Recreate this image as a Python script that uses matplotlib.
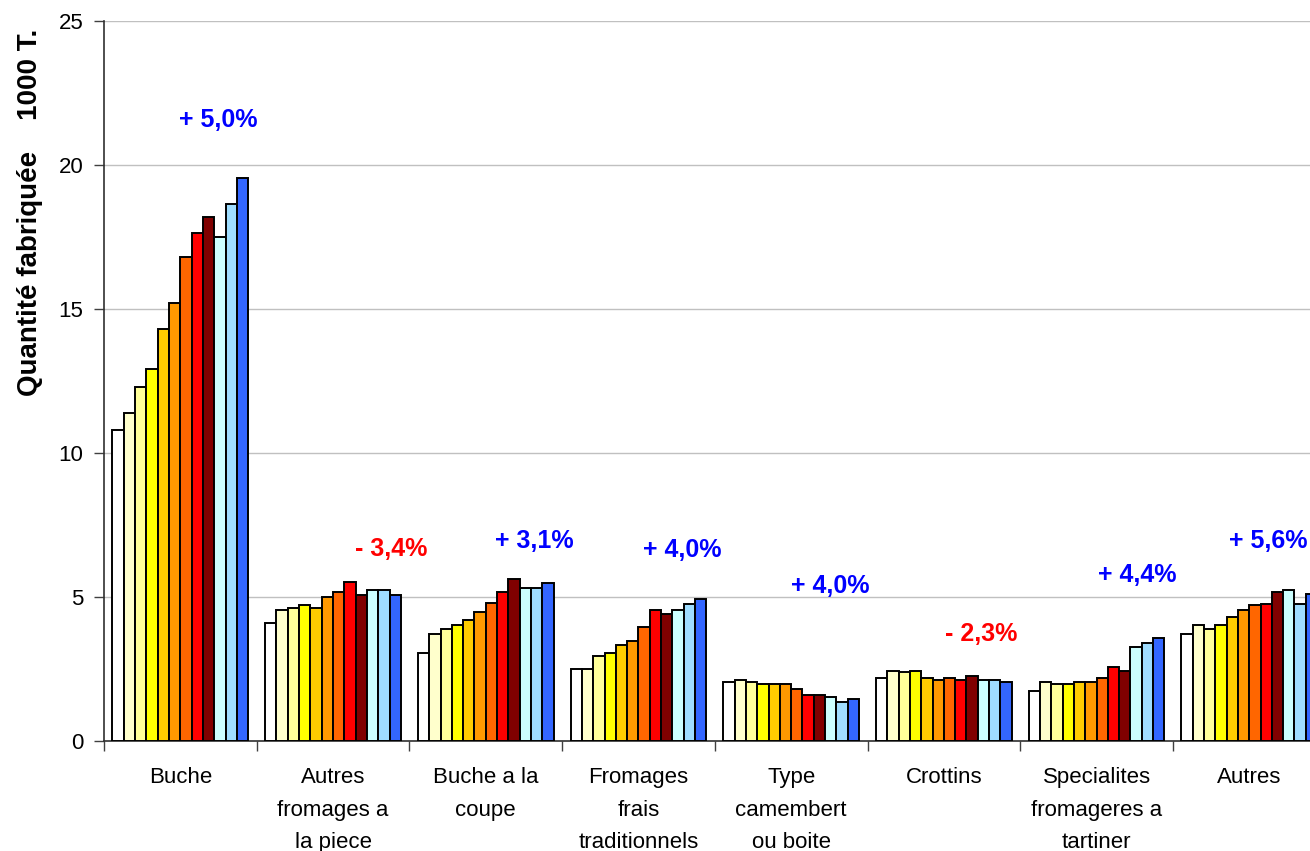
import matplotlib
matplotlib.use("Agg")
import matplotlib.pyplot as plt
import numpy as np

plt.rcParams['font.family'] = ['Liberation Sans', 'DejaVu Sans']

categories = ["Buche", "Autres\nfromages a\nla piece", "Buche a la\ncoupe",
              "Fromages\nfrais\ntraditionnels", "Type\ncamembert\nou boite",
              "Crottins", "Specialites\nfromageres a\ntartiner", "Autres"]

# 12 successive years per category (1000 T.)
buche = [10.8, 11.4, 12.3, 12.9, 14.3, 15.2, 16.8, 17.65, 18.2, 17.5, 18.65, 19.55]
autres_fromages_piece = [4.10, 4.56, 4.63, 4.71, 4.63, 5.01, 5.17, 5.53, 5.08, 5.23, 5.23, 5.08]
buche_coupe = [3.04, 3.73, 3.89, 4.02, 4.20, 4.49, 4.78, 5.19, 5.63, 5.30, 5.30, 5.47]
fromages_frais = [2.51, 2.51, 2.95, 3.04, 3.34, 3.48, 3.95, 4.55, 4.40, 4.55, 4.77, 4.93]
type_camembert = [2.06, 2.13, 2.06, 1.97, 1.97, 1.97, 1.82, 1.59, 1.59, 1.52, 1.37, 1.45]
crottins = [2.20, 2.43, 2.41, 2.43, 2.19, 2.11, 2.19, 2.11, 2.27, 2.11, 2.11, 2.05]
specialites = [1.75, 2.04, 1.98, 1.98, 2.04, 2.04, 2.19, 2.58, 2.43, 3.26, 3.41, 3.56]
autres = [3.73, 4.03, 3.88, 4.03, 4.32, 4.55, 4.71, 4.77, 5.17, 5.23, 4.77, 5.09]

values = [buche, autres_fromages_piece, buche_coupe, fromages_frais,
          type_camembert, crottins, specialites, autres]

growth_labels = ["+ 5,0%", "- 3,4%", "+ 3,1%", "+ 4,0%", "+ 4,0%", "- 2,3%", "+ 4,4%", "+ 5,6%"]

bar_colors = ["#FFFFFF", "#FFFFCC", "#FFFF99", "#FFFF00", "#FFCC00", "#FF9900",
              "#FF6600", "#FF0000", "#800000", "#CCFFFF", "#9FDDFF", "#3366FF"]

# label placement (layout only)
label_x = [0.747, 1.88, 2.82, 3.785, 4.755, 5.745, 6.765, 7.625]
label_y = [21.56, 6.67, 6.94, 6.63, 5.38, 3.72, 5.76, 6.94]

W, H = 1310, 851
fig = plt.figure(figsize=(W / 100, H / 100), dpi=100)
ax = fig.add_axes([104 / W, 1 - 741 / H, 8 * 152.7 / W, (741 - 21) / H])

data = np.array(values)
n_cat, n_ser = data.shape
bw = 1 / (n_ser + 1.5)
for s in range(n_ser):
    x = np.arange(n_cat) + 0.75 * bw + s * bw
    ax.bar(x, data[:, s], width=bw, align='edge', color=bar_colors[s],
           edgecolor='black', linewidth=1.4, zorder=3)

for i, lab in enumerate(growth_labels):
    col = '#FF0000' if lab.startswith('-') else '#0000FF'
    ax.text(label_x[i], label_y[i], lab, color=col, fontsize=18, fontweight='bold',
            ha='center', va='center', clip_on=False)

ax.set_xlim(0, n_cat)
ax.set_ylim(0, 25)
ax.set_yticks(np.arange(0, 26, 5))
ax.yaxis.grid(True, color='#C0C0C0', linewidth=1, zorder=0)
ax.set_axisbelow(True)

ax.set_xticks(np.arange(0, n_cat + 1))
ax.set_xticklabels([])
ax.set_xticks(np.arange(n_cat) + 0.5, minor=True)
ax.set_xticklabels(categories, minor=True, fontsize=16, linespacing=1.72)
ax.tick_params(axis='x', which='major', length=7, width=1, color='#404040', direction='out')
ax.tick_params(axis='x', which='minor', length=0, pad=19)
ax.tick_params(axis='y', length=7, width=1, color='#404040', labelsize=16, pad=8)

for sp in ['top', 'right']:
    ax.spines[sp].set_visible(False)
ax.spines['left'].set_color('#303030')
ax.spines['bottom'].set_color('#303030')
ax.spines['left'].set_linewidth(1.2)
ax.spines['bottom'].set_linewidth(1.2)

fig.text(30 / W, 1 - 212 / H, "Quantité fabriquée    1000 T.", rotation=90,
         fontsize=20, fontweight='bold', ha='center', va='center')

fig.savefig("out.png", dpi=100)
